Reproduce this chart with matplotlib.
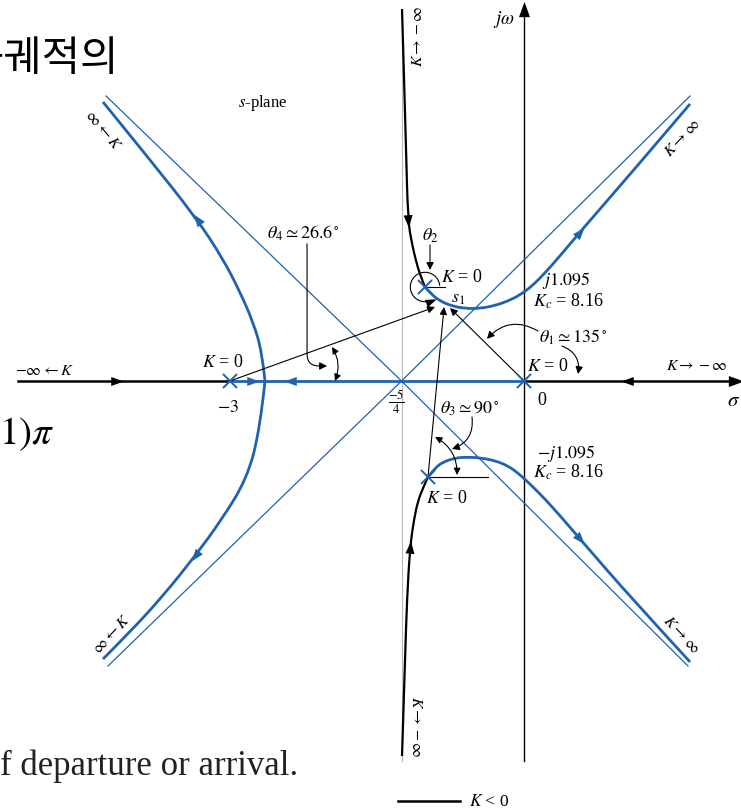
import numpy as np
import matplotlib.pyplot as plt
from matplotlib.path import Path
from matplotlib.patches import PathPatch, Arc
from matplotlib.markers import MarkerStyle
from matplotlib.transforms import Affine2D

plt.rcParams['font.family'] = ['Liberation Serif', 'DejaVu Serif']
plt.rcParams['mathtext.fontset'] = 'stix'

BLUE = '#1f62ad'

# open-loop poles (K = 0)
pole_re = [0.0, -3.0, -1.01, -0.98]
pole_im = [0.0, 0.0, 0.959, -0.98]

# K > 0 branches
left_up_re = [-2.643, -2.673, -2.765, -2.898, -3.071, -3.337, -3.847, -4.296]
left_up_im = [0.0, 0.296, 0.602, 0.908, 1.245, 1.653, 2.296, 2.847]
left_dn_re = [-2.643, -2.694, -2.827, -3.102, -3.357, -3.684, -4.020, -4.296]
left_dn_im = [0.0, -0.490, -1.0, -1.439, -1.786, -2.194, -2.561, -2.837]
right_up_re = [-1.010, -0.949, -0.857, -0.735, -0.602, -0.449, -0.296, -0.163, -0.041,
               0.082, 0.214, 0.367, 0.571, 1.112, 1.694]
right_up_im = [0.959, 0.888, 0.816, 0.765, 0.740, 0.740, 0.770, 0.816, 0.878,
               0.969, 1.102, 1.276, 1.520, 2.143, 2.827]
right_dn_re = [-0.980, -0.908, -0.827, -0.704, -0.582, -0.429, -0.286, -0.163, -0.061,
               0.061, 0.214, 0.388, 0.571, 1.112, 1.694]
right_dn_im = [-0.980, -0.888, -0.827, -0.786, -0.776, -0.786, -0.816, -0.867, -0.939,
               -1.051, -1.204, -1.398, -1.612, -2.235, -2.867]

# K < 0 branches
neg_up_re = [-1.245, -1.224, -1.204, -1.184, -1.143, -1.102, -1.061, -1.010]
neg_up_im = [3.796, 3.082, 2.367, 1.633, 1.398, 1.224, 1.082, 0.959]
neg_dn_re = [-0.980, -1.031, -1.082, -1.122, -1.163, -1.194, -1.214, -1.245]
neg_dn_im = [-0.980, -1.092, -1.224, -1.408, -1.694, -2.224, -2.837, -3.827]

# real axis segments
real_neg_left = [-5.16, -3.0]
real_pos = [-3.0, 0.0]
real_neg_right = [0.0, 2.18]

# asymptotes
centroid = -5 / 4
asym_end_re = [-4.265, 1.694, -4.245, 1.673]
asym_end_im = [2.908, 2.908, -2.908, -2.908]

# direction arrows on the real axis
axis_arrow_re = [-4.153, -2.765, -2.388, 1.051]
axis_arrow_ang = [0, 0, 180, 180]
axis_arrow_col = ['k', BLUE, BLUE, 'k']

fig = plt.figure(figsize=(7.41, 8.12), dpi=100)
ax = fig.add_axes([0, 0, 1, 1])
ax.set_xlim(-5.347, 2.214)
ax.set_ylim(-4.388, 3.898)
ax.axis('off')

HEAD = [(1.0, 0.0), (-1.0, 0.72), (-1.0, -0.72), (1.0, 0.0)]


def head(x, y, ang, color, ms=9):
    m = MarkerStyle(HEAD, transform=Affine2D().rotate_deg(ang))
    ax.plot([x], [y], marker=m, color=color, ms=ms, mew=0, linestyle='none', zorder=6)


def smooth_line(xs, ys, color, lw, z=3):
    pts = np.column_stack([xs, ys])
    n = len(pts)
    verts, codes = [pts[0]], [Path.MOVETO]
    for i in range(1, n - 1):
        end = pts[-1] if i == n - 2 else (pts[i] + pts[i + 1]) / 2
        verts += [pts[i], end]
        codes += [Path.CURVE3, Path.CURVE3]
    if n == 2:
        verts.append(pts[1])
        codes.append(Path.LINETO)
    ax.add_patch(PathPatch(Path(verts, codes), fill=False, edgecolor=color,
                           lw=lw, zorder=z))


def branch_head(xs, ys, i, color, flip=False):
    ang = np.degrees(np.arctan2(ys[i + 1] - ys[i - 1], xs[i + 1] - xs[i - 1]))
    head(xs[i], ys[i], ang + (180 if flip else 0), color)


# axes
ax.plot([centroid, centroid], [3.73, -3.88], color='#b8b8b8', lw=0.8, zorder=1)
ax.plot([0, 0], [-3.88, 3.78], color='k', lw=1.0, zorder=2)
head(0, 3.80, 90, 'k', ms=11)

# asymptotes
for er, ei in zip(asym_end_re, asym_end_im):
    ax.plot([centroid, er], [0, ei], color=BLUE, lw=0.9, zorder=2)

# real axis loci
ax.plot(real_neg_left, [0, 0], color='k', lw=1.8, zorder=3)
ax.plot(real_pos, [0, 0], color=BLUE, lw=2.0, zorder=3)
ax.plot(real_neg_right, [0, 0], color='k', lw=1.8, zorder=3)
head(2.16, 0, 0, 'k', ms=11)
for r, a, c in zip(axis_arrow_re, axis_arrow_ang, axis_arrow_col):
    head(r, 0, a, c)

# complex loci
for xs, ys in [(left_up_re, left_up_im), (left_dn_re, left_dn_im),
               (right_up_re, right_up_im), (right_dn_re, right_dn_im)]:
    smooth_line(xs, ys, BLUE, 2.0)
for xs, ys in [(neg_up_re, neg_up_im), (neg_dn_re, neg_dn_im)]:
    smooth_line(xs, ys, 'k', 1.6)

branch_head(left_up_re, left_up_im, 5, BLUE)
branch_head(left_dn_re, left_dn_im, 4, BLUE)
branch_head(right_up_re, right_up_im, 12, BLUE)
branch_head(right_dn_re, right_dn_im, 12, BLUE)
branch_head(neg_up_re, neg_up_im, 3, 'k')
branch_head(neg_dn_re, neg_dn_im, 4, 'k', flip=True)

ax.plot(pole_re, pole_im, 'x', color=BLUE, ms=10, mew=1.4, zorder=7)

# angle construction
arr = dict(arrowstyle='-|>', color='k', lw=0.8, mutation_scale=11, shrinkA=0, shrinkB=0)
ax.annotate('', xy=(-0.908, 0.755), xytext=(-3.0, 0.0), arrowprops=arr)
ax.annotate('', xy=(-0.755, 0.745), xytext=(0.0, 0.0), arrowprops=arr)
ax.annotate('', xy=(-0.816, 0.755), xytext=(-0.98, -0.98), arrowprops=arr)

ax.plot([-1.01, -0.81], [0.959, 0.959], color='k', lw=0.8)
ax.plot([-0.98, -0.367], [-0.98, -0.98], color='k', lw=0.8)

r2 = 0.15
ax.add_patch(Arc((-1.01, 0.959), 2 * r2, 2 * r2, theta1=5, theta2=292, color='k', lw=0.8))
t = np.radians(292)
head(-1.01 + r2 * np.cos(t), 0.959 + r2 * np.sin(t), 22, 'k', ms=8)

dbl = dict(arrowstyle='<|-|>', color='k', lw=0.8, mutation_scale=10, shrinkA=0, shrinkB=0)
ax.annotate('', xy=(-1.929, 0.0), xytext=(-1.959, 0.347),
            arrowprops=dict(dbl, connectionstyle='arc3,rad=-0.25'))
ax.annotate('', xy=(-0.684, -0.959), xytext=(-0.908, -0.571),
            arrowprops=dict(dbl, connectionstyle='arc3,rad=-0.3'))

ax.annotate('', xy=(-0.378, 0.429), xytext=(0.143, 0.51),
            arrowprops=dict(arr, connectionstyle='arc3,rad=0.4'))
ax.annotate('', xy=(0.551, 0.071), xytext=(0.388, 0.357),
            arrowprops=dict(arr, connectionstyle='arc3,rad=-0.4'))
ax.annotate('', xy=(-0.735, -0.694), xytext=(-0.531, -0.367),
            arrowprops=dict(arr, connectionstyle='arc3,rad=-0.4'))
ax.annotate('', xy=(-0.959, 1.133), xytext=(-0.959, 1.388), arrowprops=arr)
ax.annotate('', xy=(-2.010, 0.153), xytext=(-2.214, 1.40),
            arrowprops=dict(arr, connectionstyle='angle,angleA=90,angleB=0,rad=12'))

# labels
lab = [
    (r'$s$-plane', -2.67, 2.85, 12, 0),
    (r'$j\omega$', -0.21, 3.70, 13.5, 0),
    (r'$\sigma$', 2.14, -0.20, 15, 0),
    ('0', 0.18, -0.19, 13, 0),
    (r'$-3$', -3.02, -0.265, 13, 0),
    (r'$K$ = 0', -3.07, 0.194, 13, 0),
    (r'$-\infty \leftarrow K$', -4.89, 0.11, 11.5, 0),
    (r'$\frac{-5}{4}$', -1.30, -0.21, 13, 0),
    (r'$K$ = 0', 0.245, 0.163, 13, 0),
    (r'$K \rightarrow -\infty$', 1.765, 0.163, 11.5, 0),
    (r'$\theta_1 \simeq 135^\circ$', 0.50, 0.46, 13, 0),
    (r'$j1.095$', 0.43, 1.035, 13, 0),
    (r'$K_c$ = 8.16', 0.45, 0.825, 13, 0),
    (r'$K$ = 0', -0.633, 1.071, 13, 0),
    (r'$s_1$', -0.673, 0.857, 13, 0),
    (r'$\theta_2$', -0.959, 1.49, 13, 0),
    (r'$\theta_3 \simeq 90^\circ$', -0.551, -0.276, 13, 0),
    (r'$-j1.095$', 0.43, -0.725, 13, 0),
    (r'$K_c$ = 8.16', 0.45, -0.925, 13, 0),
    (r'$K$ = 0', -0.786, -1.184, 13, 0),
    (r'$\theta_4 \simeq 26.6^\circ$', -2.255, 1.52, 13, 0),
    (r'$\infty \leftarrow K$', -4.296, 2.571, 11.5, -50),
    (r'$K \rightarrow \infty$', 1.612, 2.49, 11.5, 47),
    (r'$\infty \leftarrow K$', -4.204, -2.58, 11.5, 47),
    (r'$K \rightarrow \infty$', 1.602, -2.58, 11.5, -47),
    (r'$K \rightarrow -\infty$', -1.082, 3.53, 11.5, 90),
    (r'$K \rightarrow -\infty$', -1.10, -3.52, 11.5, -90),
]
for s, x, y, fs, rot in lab:
    ax.text(x, y, s, fontsize=fs, rotation=rot, ha='center', va='center', zorder=8)

# legend entry
ax.plot([-1.286, -0.653], [-4.286, -4.286], color='k', lw=1.8)
ax.text(-0.56, -4.286, r'$K$ < 0', fontsize=12.5, ha='left', va='center')

# surrounding page text
ax.text(-5.694, 3.29, '근궤적의', fontsize=30, ha='left', va='center',
        family=['Noto Sans CJK KR', 'DejaVu Sans'])
ax.text(-5.36, -0.63, r'$1)\pi$', fontsize=28, ha='left', va='baseline')
ax.text(-5.35, -4.01, 'f departure or arrival.', fontsize=25, ha='left',
        va='baseline', color='#222222')

fig.savefig('out.png', dpi=100, facecolor='white')
